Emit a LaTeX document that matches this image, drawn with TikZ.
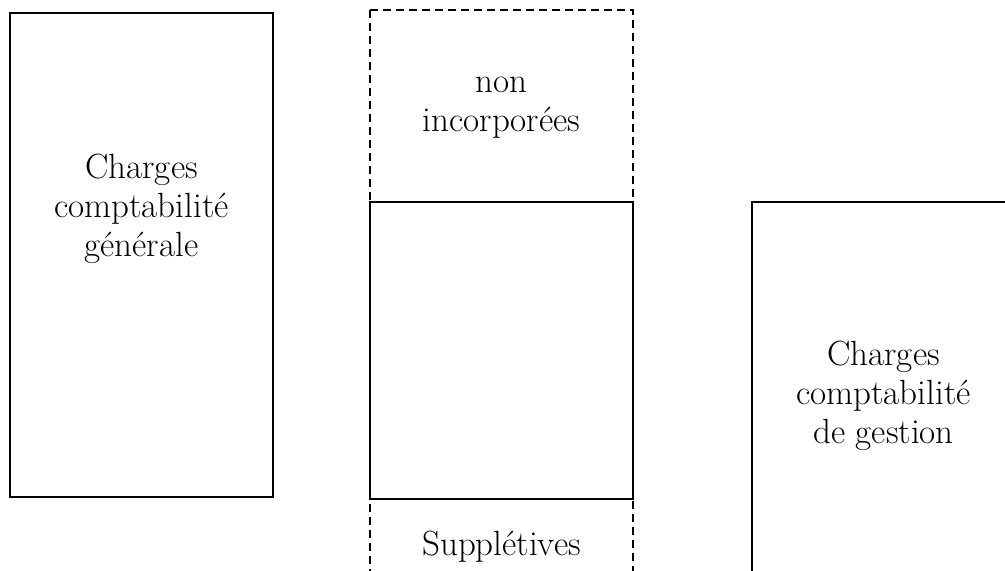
\documentclass[tikz,border=0pt]{standalone}
\usepackage{tikz}
\usetikzlibrary{positioning}
\tikzset{
  box/.style={draw, line width=1pt},
  dashbox/.style={draw, line width=1pt, dash pattern=on 4pt off 2.5pt},
  lab/.style={align=center, font=\fontsize{17.5}{19.5}\selectfont, inner sep=0pt}
}
\begin{document}
\begin{tikzpicture}[x=0.5pt, y=-0.5pt]
\useasboundingbox (0,0) rectangle (1005,571);
\clip (0,0) rectangle (1005,571);
% comptabilite generale
\draw[box] (10,13) rectangle (273,497);
\node[lab] (cgen) at (141.5,209) {Charges\\comptabilité\\générale};
% colonne du milieu
\draw[dashbox] (370,10) rectangle (633,596);
\draw[box] (370,202) rectangle (633,499);
\node[lab] (nonincorp) at (501.5,108) {non\\incorporées};
\node[lab] (suppl) at (501.5,547) {Supplétives};
% comptabilite de gestion
\draw[box] (752,202) rectangle (1015,586);
\node[lab] (cgest) at (883.5,396) {Charges\\comptabilité\\de gestion};
\end{tikzpicture}
\end{document}
